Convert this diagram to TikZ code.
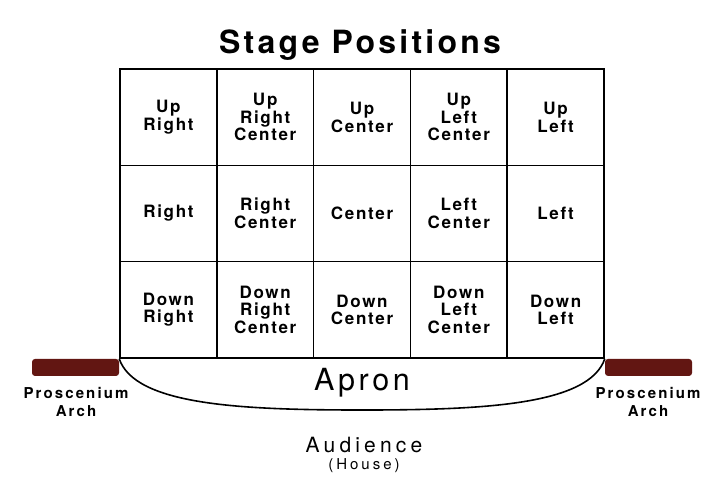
\documentclass[tikz,border=0pt]{standalone}
\usepackage{fontspec}
\newfontfamily\titlefont[LetterSpace=10]{TeX Gyre Heros}
\newfontfamily\cellfont[LetterSpace=10]{TeX Gyre Heros}
\newfontfamily\apronfont[LetterSpace=12]{TeX Gyre Heros}
\newfontfamily\housefont[LetterSpace=20]{TeX Gyre Heros}
\newfontfamily\archfont[LetterSpace=14]{TeX Gyre Heros}
\definecolor{archred}{RGB}{98,22,18}
\begin{document}
\begin{tikzpicture}[x=1pt,y=-1pt,
        cell/.style={draw,line width=1.6pt,minimum width=96.8pt,minimum height=96.3pt,inner sep=0pt,align=center,font=\cellfont\bfseries\fontsize{17}{17.5}\selectfont},
        arch/.style={fill=archred,rounded corners=3pt,minimum width=87pt,minimum height=17pt,inner sep=0pt},
        archlabel/.style={align=center,inner sep=0pt,font=\archfont\bfseries\fontsize{15}{18}\selectfont}]
        \useasboundingbox[fill=white] (0,0) rectangle (720,488);
        %% Title
        \node[anchor=base,inner sep=0pt,font=\titlefont\bfseries\fontsize{32}{36}\selectfont] (title) at (360,53) {Stage Positions};
        %% Stage grid
        \foreach \row/\y in {1/117.2,2/213.5,3/309.8}
            \foreach \col/\x in {1/168.4,2/265.2,3/362,4/458.8,5/555.6}
                \node[cell] (c-\row-\col) at (\x,\y) {};
        \node[font=\cellfont\bfseries\fontsize{17}{17.5}\selectfont,align=center] (ur) at (c-1-1) {Up\\Right};
        \node[font=\cellfont\bfseries\fontsize{17}{17.5}\selectfont,align=center] (urc) at (c-1-2) {Up\\Right\\Center};
        \node[font=\cellfont\bfseries\fontsize{17}{17.5}\selectfont,align=center] (uc) at (c-1-3) {Up\\Center};
        \node[font=\cellfont\bfseries\fontsize{17}{17.5}\selectfont,align=center] (ulc) at (c-1-4) {Up\\Left\\Center};
        \node[font=\cellfont\bfseries\fontsize{17}{17.5}\selectfont,align=center] (ul) at (c-1-5) {Up\\Left};
        \node[font=\cellfont\bfseries\fontsize{17}{17.5}\selectfont,align=center] (r) at (c-2-1) {Right};
        \node[font=\cellfont\bfseries\fontsize{17}{17.5}\selectfont,align=center] (rc) at (c-2-2) {Right\\Center};
        \node[font=\cellfont\bfseries\fontsize{17}{17.5}\selectfont,align=center] (c) at (c-2-3) {Center};
        \node[font=\cellfont\bfseries\fontsize{17}{17.5}\selectfont,align=center] (lc) at (c-2-4) {Left\\Center};
        \node[font=\cellfont\bfseries\fontsize{17}{17.5}\selectfont,align=center] (l) at (c-2-5) {Left};
        \node[font=\cellfont\bfseries\fontsize{17}{17.5}\selectfont,align=center] (dr) at (c-3-1) {Down\\Right};
        \node[font=\cellfont\bfseries\fontsize{17}{17.5}\selectfont,align=center] (drc) at (c-3-2) {Down\\Right\\Center};
        \node[font=\cellfont\bfseries\fontsize{17}{17.5}\selectfont,align=center] (dc) at (c-3-3) {Down\\Center};
        \node[font=\cellfont\bfseries\fontsize{17}{17.5}\selectfont,align=center] (dlc) at (c-3-4) {Down\\Left\\Center};
        \node[font=\cellfont\bfseries\fontsize{17}{17.5}\selectfont,align=center] (dl) at (c-3-5) {Down\\Left};
        %% Apron
        \draw[line width=1.6pt] (c-3-1.south west) .. controls (135,405) and (240,410) .. (362,410)
            .. controls (484,410) and (589,405) .. (c-3-5.south east);
        \node[inner sep=0pt,font=\apronfont\fontsize{30.5}{34}\selectfont] (apron) at (362,383) {Apron};
        %% Proscenium arch
        \node[arch,anchor=north east] (archL) at (c-3-1.south west) {};
        \node[arch,anchor=north west] (archR) at (c-3-5.south east) {};
        \node[archlabel,anchor=base] (archLtxt) at (76,416) {Proscenium\\Arch};
        \node[archlabel,anchor=base] (archRtxt) at (648,416) {Proscenium\\Arch};
        %% Audience
        \node[anchor=base,inner sep=0pt,font=\housefont\fontsize{21}{24}\selectfont] (audience) at (364,452) {Audience};
        \node[anchor=base,inner sep=0pt,font=\housefont\fontsize{15}{18}\selectfont] (house) at (364,469) {(House)};
\end{tikzpicture}
\end{document}
